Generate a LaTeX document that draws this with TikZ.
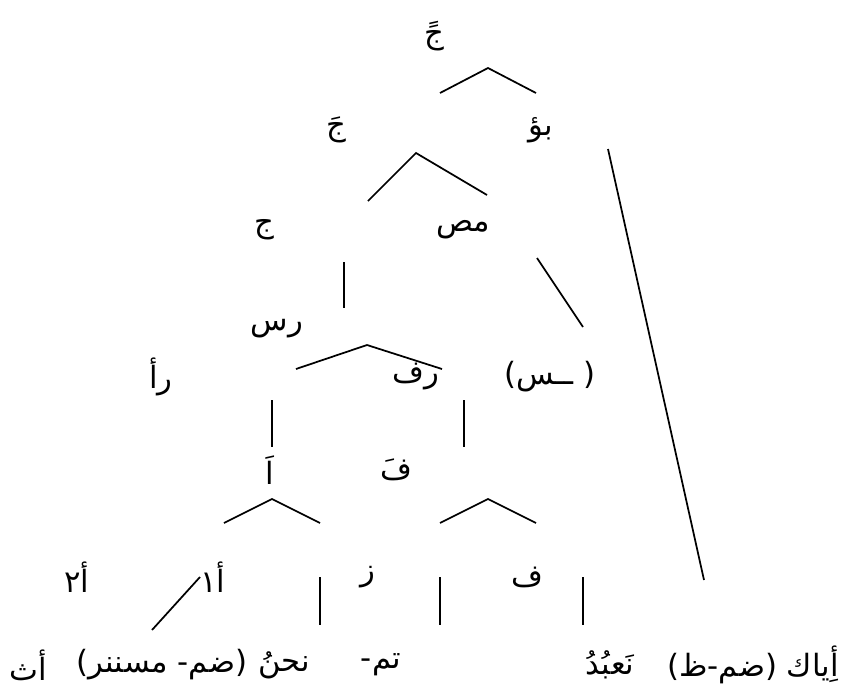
\documentclass[tikz,border=0pt]{standalone}
\usepackage{fontspec}
\newfontfamily\arabicfont[Script=Arabic]{DejaVu Sans}
\newfontfamily\plainfont{DejaVu Sans}
\newcommand\aw[1]{\hbox{\arabicfont #1}}
\newcommand\nt[1]{\hbox{\plainfont #1}}
\begin{document}
\begin{tikzpicture}[x=0.75pt,y=-0.75pt]
    \tikzset{word/.style = {inner sep = 0pt,font = \fontsize{23}{26}\selectfont}, edge/.style = {line width=1.3pt}}
    \useasboundingbox (0,0) rectangle (846,690);
    \def\yl{577}
    \def\yb{665}
    % labels
    \node[word] (jtop) at (434,36) {\aw{جً}};
    \node[word] (jfat) at (336,130) {\aw{جَ}};
    \node[word] (bu) at (541,130) {\aw{بؤ}};
    \node[word] (jim) at (264,230) {\aw{ج}};
    \node[word] (mas) at (463,230) {\aw{مص}};
    \node[word] (ras) at (277,329) {\aw{رس}};
    \node[word] (ra) at (161,377) {\aw{رأ}};
    \node[word] (raf) at (416,377) {\aw{رف}};
    \node[word] (sin) at (550,377) {\nt{(}\aw{ــس}\nt{ )}};
    \node[word] (alif) at (270,470) {\aw{اَ}};
    \node[word] (fat) at (396,470) {\aw{فَ}};
    \node[word] (aa) at (77,\yl) {\aw{٢}\aw{أ}};
    \node[word] (ab) at (213,\yl) {\aw{١}\aw{أ}};
    \node[word] (za) at (368,\yl) {\aw{ز}};
    \node[word] (fa) at (527,\yl) {\aw{ف}};
    \node[word] (ath) at (28,\yb) {\aw{أث}};
    \node[word] (pron) at (162,\yb) {\nt{(}\aw{مسننر}\nt{ -}\aw{ضم}\nt{)}};
    \node[word] (nahnu) at (284,\yb) {\aw{نحنُ}};
    \node[word] (tam) at (381,\yb) {\nt{-}\aw{تم}};
    \node[word] (nabud) at (610,\yb) {\aw{نَعبُدُ}};
    \node[word] (iyyak) at (753,\yb) {\nt{(}\aw{ظ}\nt{-}\aw{ضم}\nt{) }\aw{أِياك}};
    % line ends
    \coordinate (Al) at (440,93); \coordinate (A) at (488,68); \coordinate (Ar) at (536,93);
    \coordinate (Bl) at (368,201); \coordinate (B) at (416,153); \coordinate (Br) at (487,195);
    \coordinate (Ct) at (344,262); \coordinate (Cb) at (344,308);
    \coordinate (Dt) at (537,258); \coordinate (Db) at (583,327);
    \coordinate (El) at (296,369); \coordinate (E) at (367,345); \coordinate (Er) at (442,369);
    \coordinate (Ft) at (272,400); \coordinate (Fb) at (272,447);
    \coordinate (Gt) at (464,400); \coordinate (Gb) at (464,447);
    \coordinate (Hl) at (224,523); \coordinate (H) at (272,499); \coordinate (Hr) at (320,523);
    \coordinate (Il) at (440,523); \coordinate (I) at (488,499); \coordinate (Ir) at (536,523);
    \coordinate (Jt) at (200,577); \coordinate (Jb) at (152,630);
    \coordinate (Kt) at (320,577); \coordinate (Kb) at (320,625);
    \coordinate (Lt) at (440,577); \coordinate (Lb) at (440,625);
    \coordinate (Mt) at (583,577); \coordinate (Mb) at (583,625);
    \coordinate (Nt) at (608,149); \coordinate (Nb) at (704,580);
    % lines
    \draw[edge] (Al) -- (A) -- (Ar);
    \draw[edge] (Bl) -- (B) -- (Br);
    \draw[edge] (Ct) -- (Cb);
    \draw[edge] (Dt) -- (Db);
    \draw[edge] (El) -- (E) -- (Er);
    \draw[edge] (Ft) -- (Fb);
    \draw[edge] (Gt) -- (Gb);
    \draw[edge] (Hl) -- (H) -- (Hr);
    \draw[edge] (Il) -- (I) -- (Ir);
    \draw[edge] (Jt) -- (Jb);
    \draw[edge] (Kt) -- (Kb);
    \draw[edge] (Lt) -- (Lb);
    \draw[edge] (Mt) -- (Mb);
    \draw[edge] (Nt) -- (Nb);
\end{tikzpicture}
\end{document}
